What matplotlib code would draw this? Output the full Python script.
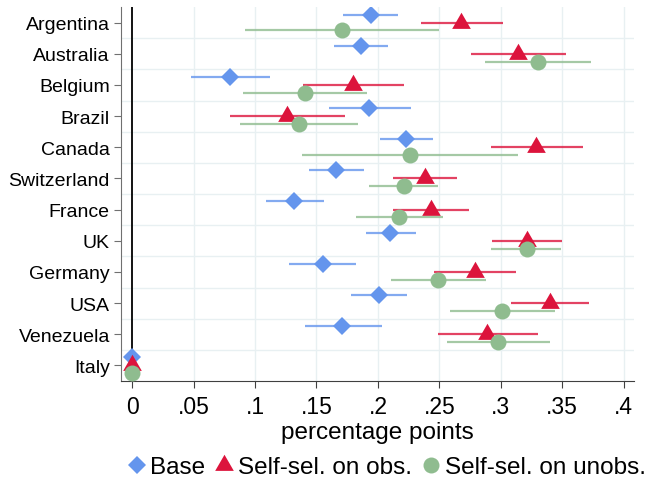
import matplotlib
matplotlib.use("Agg")
import matplotlib.pyplot as plt
from matplotlib.lines import Line2D
import numpy as np

plt.rcParams['font.family'] = ['Liberation Sans', 'DejaVu Sans']

countries = ["Argentina", "Australia", "Belgium", "Brazil", "Canada", "Switzerland",
             "France", "UK", "Germany", "USA", "Venezuela", "Italy"]

base_est = [0.194, 0.186, 0.080, 0.193, 0.223, 0.166, 0.132, 0.210, 0.155, 0.201, 0.171, 0.0]
base_lo  = [0.172, 0.164, 0.048, 0.160, 0.202, 0.144, 0.109, 0.190, 0.128, 0.178, 0.141, 0.0]
base_hi  = [0.216, 0.208, 0.112, 0.227, 0.245, 0.189, 0.156, 0.231, 0.182, 0.224, 0.203, 0.0]

obs_est = [0.268, 0.314, 0.180, 0.126, 0.329, 0.238, 0.243, 0.321, 0.279, 0.340, 0.289, 0.0]
obs_lo  = [0.235, 0.276, 0.139, 0.080, 0.292, 0.212, 0.212, 0.293, 0.246, 0.308, 0.249, 0.0]
obs_hi  = [0.302, 0.353, 0.221, 0.173, 0.367, 0.264, 0.274, 0.350, 0.312, 0.372, 0.330, 0.0]

unobs_est = [0.171, 0.330, 0.141, 0.136, 0.226, 0.221, 0.217, 0.321, 0.249, 0.301, 0.298, 0.0]
unobs_lo  = [0.092, 0.287, 0.090, 0.088, 0.138, 0.193, 0.182, 0.292, 0.211, 0.259, 0.256, 0.0]
unobs_hi  = [0.250, 0.373, 0.191, 0.184, 0.314, 0.249, 0.253, 0.349, 0.288, 0.344, 0.340, 0.0]

xticks = [0, 0.05, 0.1, 0.15, 0.2, 0.25, 0.3, 0.35, 0.4]
xticklabels = ["0", ".05", ".1", ".15", ".2", ".25", ".3", ".35", ".4"]

c_base = "#6495ED"
c_obs = "#DC143C"
c_unobs = "#8FBC8F"

# triangle centred on its centroid (as Stata draws it)
tri = [(0, 1), (-0.866, -0.5), (0.866, -0.5), (0, 1)]

fig = plt.figure(figsize=(6.48, 4.85), dpi=100)
ax = fig.add_axes([0.1867, 0.2124, 0.791, 0.771])

y = np.arange(len(countries))
series = [
    (base_est, base_lo, base_hi, c_base, "D", 9.5, -0.26, "Base"),
    (obs_est, obs_lo, obs_hi, c_obs, tri, 15.5, 0.0, "Self-sel. on obs."),
    (unobs_est, unobs_lo, unobs_hi, c_unobs, "o", 11.5, 0.25, "Self-sel. on unobs."),
]

# grid
for xt in xticks[1:]:
    ax.axvline(xt, color="#E8F0F2", lw=1.0, zorder=0)
for k in range(len(countries) - 1):
    ax.axhline(k + 0.5, color="#E8F0F2", lw=1.0, zorder=0)
ax.axvline(0, color="black", lw=1.3, zorder=1)

handles = []
z = 2
for est, lo, hi, col, mk, ms, off, lab in series:
    yy = y + off
    ax.hlines(yy, lo, hi, color=col, lw=1.6, alpha=0.8, zorder=z)
    ax.plot(est, yy, linestyle="none", marker=mk, ms=ms, color=col,
            markeredgewidth=0, zorder=z + 1)
    handles.append(Line2D([], [], linestyle="none", marker=mk, ms=ms, color=col,
                          markeredgewidth=0, label=lab))
    z += 2

ax.set_ylim(11.5, -0.5)
ax.set_xlim(-0.009, 0.408)
ax.set_yticks(y)
ax.set_yticklabels(countries, fontsize=14)
ax.set_xticks(xticks)
ax.set_xticklabels(xticklabels, fontsize=16.5)
ax.set_xlabel("percentage points", fontsize=17.5, labelpad=2)

for s in ["top", "right"]:
    ax.spines[s].set_visible(False)
ax.spines["left"].set_color("#707070")
ax.spines["bottom"].set_color("#404040")
ax.tick_params(axis="y", length=5, color="#707070", pad=3)
ax.tick_params(axis="x", length=5, color="#404040", pad=5)

fig.legend(handles=handles, loc="center", bbox_to_anchor=(385 / 648, 1 - 468 / 485),
           ncol=3, frameon=False, fontsize=17.5, handletextpad=0.05,
           columnspacing=0.3, handlelength=1.0, borderaxespad=0)

fig.savefig("out.png", dpi=100)
